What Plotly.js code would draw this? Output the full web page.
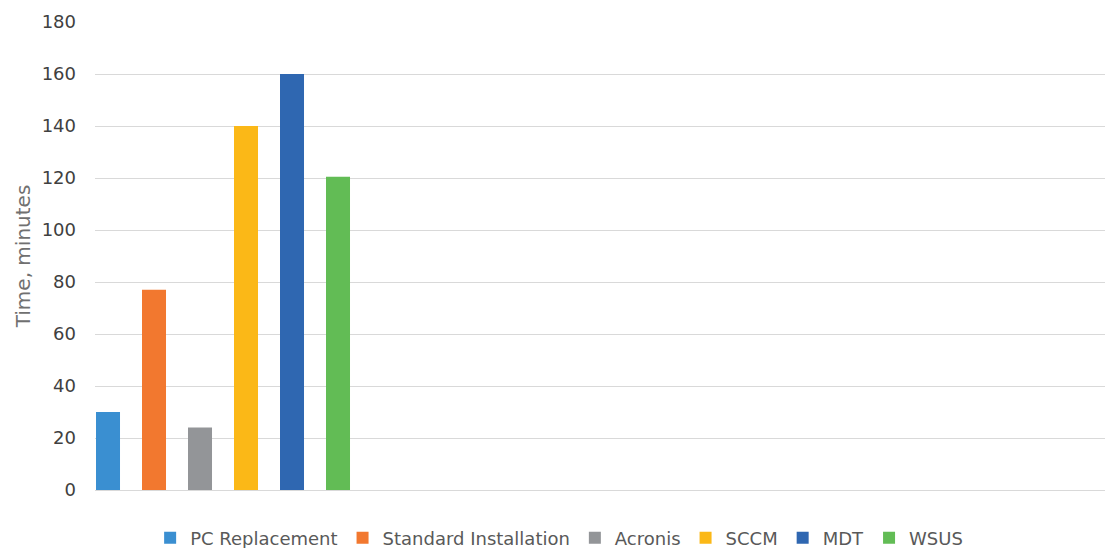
<!DOCTYPE html>
<html>
<head>
<meta charset="utf-8">
<script src="https://cdn.plot.ly/plotly-3.0.1.min.js"></script>
<style>html,body{margin:0;padding:0;background:#fff;}#chart{width:1105px;height:548px;}</style>
</head>
<body>
<div id="chart"></div>
<script>
const seriesNames = ["PC Replacement", "Standard Installation", "Acronis", "SCCM", "MDT", "WSUS"];
const seriesValues = [30, 77, 24, 140, 160, 120.5];
const seriesColors = ["#3a8fd1", "#f2782f", "#939598", "#fbb817", "#2f67b1", "#62bc55"];
const category = [""];
const yTicks = [0, 20, 40, 60, 80, 100, 120, 140, 160, 180];

const traces = seriesNames.map((name, i) => ({
  type: "bar",
  name: name,
  x: category,
  y: [seriesValues[i]],
  marker: {color: seriesColors[i], line: {width: 0}},
  hoverinfo: "name+y"
}));

const layout = {
  width: 1105, height: 548,
  margin: {l: 95, r: 0, t: 22, b: 58},
  paper_bgcolor: "#ffffff",
  plot_bgcolor: "#ffffff",
  font: {family: "DejaVu Sans, sans-serif", color: "#595959"},
  barmode: "group",
  bargap: 0,
  bargroupgap: 0.478,
  xaxis: {
    type: "category",
    range: [-0.4638, 3.1957],
    showticklabels: false,
    showgrid: false,
    zeroline: false,
    showline: false,
    fixedrange: true
  },
  yaxis: {
    range: [0, 180],
    tickvals: yTicks,
    ticktext: yTicks.map(String),
    showgrid: true,
    gridcolor: "#d9d9d9",
    gridwidth: 1,
    zeroline: true,
    zerolinecolor: "#d9d9d9",
    showline: false,
    tickfont: {size: 18, color: "#404040"},
    ticklabelstandoff: 18,
    title: {text: "Time, minutes", font: {size: 20, color: "#707070"}, standoff: 5}
  },
  showlegend: true,
  legend: {
    orientation: "h",
    xref: "container", yref: "container",
    x: 0.506, xanchor: "center",
    y: 0.018, yanchor: "middle",
    font: {size: 18, color: "#595959"},
    itemwidth: 30,
    traceorder: "normal"
  }
};

Plotly.newPlot("chart", traces, layout, {displayModeBar: false, staticPlot: true});
</script>
</body>
</html>
